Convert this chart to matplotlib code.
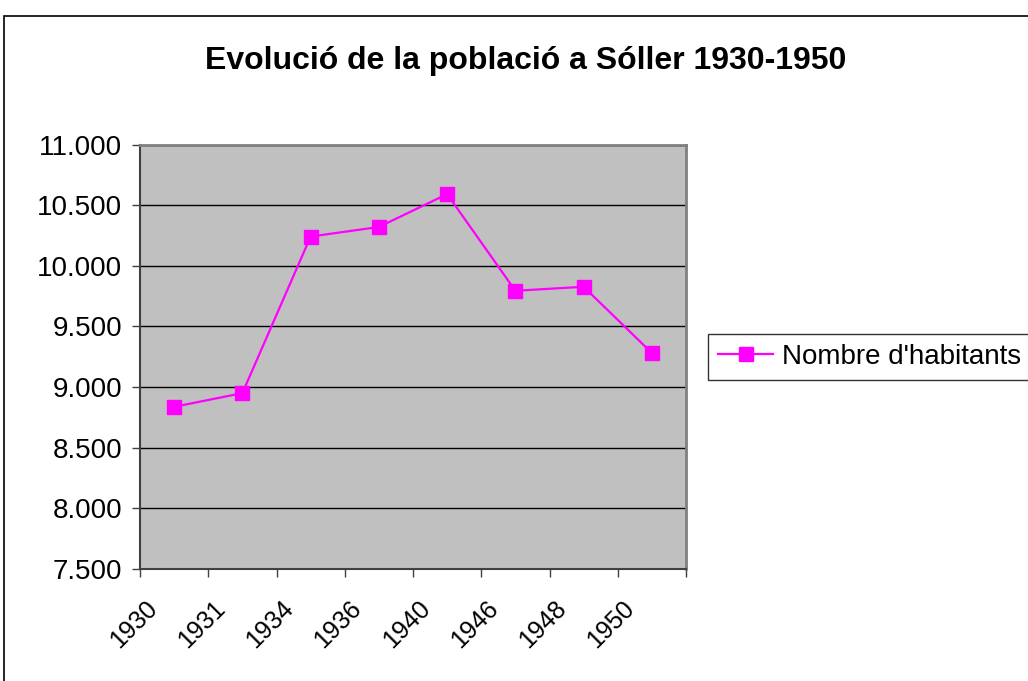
import matplotlib
matplotlib.use('Agg')
import matplotlib.pyplot as plt
import matplotlib.transforms as mtransforms
from matplotlib.patches import Rectangle
from matplotlib.ticker import FuncFormatter
import numpy as np

# === DATA ===
YEARS = ['1930', '1931', '1934', '1936', '1940', '1946', '1948', '1950']
HABITANTS = [8837, 8950, 10241, 10320, 10591, 9794, 9827, 9281]
SERIES_LABEL = "Nombre d'habitants"
TITLE = 'Evolució de la població a Sóller 1930-1950'

MAGENTA = '#FF00FF'
PLOT_BG = '#C0C0C0'
FS = 20

plt.rcParams['font.family'] = ['Liberation Sans', 'DejaVu Sans']

fig = plt.figure(figsize=(10.28, 6.81), dpi=100)
fig.patch.set_facecolor('white')

# outer chart frame (extends past right/bottom edges like the reference)
fig.patches.append(Rectangle((4 / 1028, -0.05), 1.2, 1 - 16 / 681 + 0.05,
                             transform=fig.transFigure, fill=False,
                             edgecolor='black', linewidth=1.2, zorder=0))

ax = fig.add_axes([140 / 1028, 1 - 569 / 681, 546 / 1028, 424.5 / 681])
ax.set_facecolor(PLOT_BG)

x = np.arange(len(YEARS))
line, = ax.plot(x, HABITANTS, color=MAGENTA, linewidth=1.6, marker='s',
                markersize=10, markerfacecolor=MAGENTA, markeredgecolor=MAGENTA,
                label=SERIES_LABEL, zorder=3, clip_on=False)

ax.set_xlim(-0.5, len(YEARS) - 0.5)
ax.set_ylim(7500, 11000)
ax.set_yticks(np.arange(7500, 11001, 500))
ax.yaxis.set_major_formatter(FuncFormatter(lambda v, p: f'{int(v):,}'.replace(',', '.')))
ax.grid(axis='y', color='black', linewidth=1.0)
ax.set_axisbelow(True)

# category boundaries carry the tick marks, labels sit at centers
ax.set_xticks(np.arange(-0.5, len(YEARS)), minor=False)
ax.set_xticklabels([])
ax.set_xticks(x, minor=True)
ax.set_xticklabels(YEARS, minor=True, rotation=45, ha='right', va='center',
                   rotation_mode='anchor', fontsize=18)
ax.tick_params(axis='x', which='minor', length=0, pad=26)
ax.tick_params(axis='x', which='major', length=6, width=1, color='#404040', direction='out')
ax.tick_params(axis='y', length=6, width=1, color='#404040', direction='out',
               labelsize=FS, pad=7)
offset = mtransforms.ScaledTranslation(-21 / 100, 0, fig.dpi_scale_trans)
for lab in ax.get_xticklabels(minor=True):
    lab.set_transform(lab.get_transform() + offset)

for side in ['left', 'bottom']:
    ax.spines[side].set_color('#404040')
    ax.spines[side].set_linewidth(1.5)
for side in ['top', 'right']:
    ax.spines[side].set_color('#808080')
    ax.spines[side].set_linewidth(2)

fig.text(526 / 1028, 1 - 61 / 681, TITLE, ha='center', va='center',
         fontsize=23, fontweight='bold')

leg = fig.legend(handles=[line], loc='center left',
                 bbox_to_anchor=(708 / 1028, 1 - 357 / 681), fontsize=FS,
                 frameon=True, fancybox=False, edgecolor='black',
                 handlelength=2.0, handletextpad=0.3, borderpad=0.35,
                 borderaxespad=0)
leg.get_frame().set_linewidth(1.0)

fig.savefig('out.png', dpi=100, facecolor='white')
